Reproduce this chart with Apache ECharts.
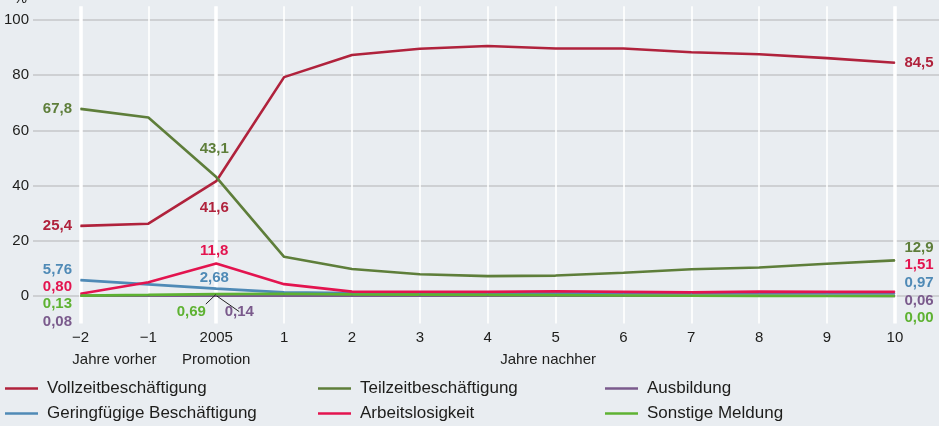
<!DOCTYPE html>
<html>
<head>
<meta charset="utf-8">
<script src="https://cdn.jsdelivr.net/npm/echarts@6/dist/echarts.min.js"></script>
<style>
html,body{margin:0;padding:0;background:#e9edf1;}
#c{width:939px;height:426px;}
</style>
</head>
<body>
<div id="c"></div>
<script>
// ---- data ----
var xPos = [-2, -1, 0, 1, 2, 3, 4, 5, 6, 7, 8, 9, 10];
var xLabels = ['\u22122', '\u22121', '2005', '1', '2', '3', '4', '5', '6', '7', '8', '9', '10'];
var groupLabels = ['Jahre vorher', 'Promotion', 'Jahre nachher'];
var groupPos = [-1.5, 0, 4.89];
var yTicks = [0, 20, 40, 60, 80, 100];

var vollzeit     = [25.4, 26.2, 41.6, 79.3, 87.3, 89.6, 90.6, 89.7, 89.7, 88.3, 87.6, 86.2, 84.5];
var teilzeit     = [67.8, 64.7, 43.1, 14.2, 9.8, 7.9, 7.2, 7.4, 8.4, 9.7, 10.3, 11.7, 12.9];
var ausbildung   = [0.08, 0.10, 0.14, 0.15, 0.10, 0.10, 0.10, 0.10, 0.08, 0.08, 0.07, 0.07, 0.06];
var geringfuegig = [5.76, 4.20, 2.68, 1.30, 1.10, 1.00, 1.00, 1.00, 1.00, 0.97, 0.98, 0.98, 0.97];
var arbeitslos   = [0.80, 5.00, 11.8, 4.30, 1.60, 1.50, 1.50, 1.70, 1.50, 1.30, 1.60, 1.50, 1.51];
var sonstige     = [0.13, 0.40, 0.69, 0.80, 0.60, 0.50, 0.40, 0.30, 0.20, 0.10, 0.05, 0.02, 0.00];

var seriesNames = ['Vollzeitbeschäftigung', 'Teilzeitbeschäftigung', 'Ausbildung',
                   'Geringfügige Beschäftigung', 'Arbeitslosigkeit', 'Sonstige Meldung'];
var seriesValues = [vollzeit, teilzeit, ausbildung, geringfuegig, arbeitslos, sonstige];
var colors = ['#b0223c', '#5e7e3a', '#7a5a8c', '#4f8ab6', '#e3144f', '#5eb232'];

// ---- label styling (index into data, decimals, placement) ----
var labelCfg = [
  [ {i:0, d:1, pos:'left', dist:8, dx:0, dy:0}, {i:2, d:1, pos:'bottom', dist:19, dx:-2, dy:0}, {i:12, d:1, pos:'right', dist:9, dx:0, dy:0} ],
  [ {i:0, d:1, pos:'left', dist:8, dx:0, dy:0}, {i:2, d:1, pos:'top', dist:20, dx:-2, dy:0}, {i:12, d:1, pos:'right', dist:9, dx:0, dy:-13} ],
  [ {i:0, d:2, pos:'left', dist:8, dx:0, dy:26}, {i:2, d:2, pos:'bottom', dist:8, dx:23, dy:0, line:true}, {i:12, d:2, pos:'right', dist:9, dx:0, dy:5} ],
  [ {i:0, d:2, pos:'left', dist:8, dx:0, dy:-10}, {i:2, d:2, pos:'top', dist:3, dx:-2, dy:0}, {i:12, d:2, pos:'right', dist:9, dx:0, dy:-10} ],
  [ {i:0, d:2, pos:'left', dist:8, dx:0, dy:-7}, {i:2, d:1, pos:'top', dist:5, dx:-2, dy:0}, {i:12, d:2, pos:'right', dist:9, dx:0, dy:-27} ],
  [ {i:0, d:2, pos:'left', dist:8, dx:0, dy:8}, {i:2, d:2, pos:'bottom', dist:9.5, dx:-25, dy:0, line:true}, {i:12, d:2, pos:'right', dist:9, dx:0, dy:22} ]
];

function fmt(v, d) { return v.toFixed(d).replace('.', ','); }

var FONT = '"Liberation Sans", Arial, sans-serif';
var TXT = '#1d1d1b';

var series = seriesValues.map(function (vals, s) {
  var data = vals.map(function (v, k) {
    var item = { value: [xPos[k], v] };
    labelCfg[s].forEach(function (c) {
      if (c.i === k) {
        item.label = {
          show: true, position: c.pos, distance: c.dist, offset: [c.dx, c.dy],
          formatter: fmt(v, c.d), color: colors[s], fontFamily: FONT,
          fontSize: 15, fontWeight: 'bold'
        };
        if (c.line) {
          item.labelLine = { show: true, length2: 0, lineStyle: { color: '#222', width: 1 } };
        }
      }
    });
    return item;
  });
  return {
    name: seriesNames[s], type: 'line', data: data, z: 3,
    symbol: 'circle', symbolSize: 1, showSymbol: true,
    itemStyle: { color: colors[s] },
    lineStyle: { color: colors[s], width: 2.6 },
    emphasis: { disabled: true }, animation: false
  };
});

// gridlines drawn by the axes' scales via markLine on a helper series
var gridMarks = [];
yTicks.forEach(function (t) {
  gridMarks.push({ yAxis: t, lineStyle: { color: '#c4c6c8', width: 1.5, type: 'solid' } });
});
xPos.forEach(function (x, k) {
  var thick = (k === 0 || k === 2 || k === xPos.length - 1);
  gridMarks.push({ xAxis: x, lineStyle: { color: '#ffffff', width: thick ? 3.5 : 1.6, type: 'solid' } });
});
series.unshift({
  name: '_grid', type: 'line', data: [[0, 0]], symbol: 'none', z: 1,
  lineStyle: { opacity: 0 }, silent: true, animation: false,
  markLine: { silent: true, symbol: 'none', z: 1, animation: false, label: { show: false }, data: gridMarks }
});

function legendAt(left, names) {
  return {
    left: left, top: 380, orient: 'vertical', icon: 'rect', itemWidth: 33, itemHeight: 2.5,
    itemGap: 8, padding: 0, data: names, selectedMode: false,
    textStyle: { fontFamily: FONT, fontSize: 17, color: TXT, padding: [0, 0, 0, 4] }
  };
}

var option = {
  backgroundColor: '#e9edf1',
  animation: false,
  grid: { left: 33, right: 0, top: 6.2, bottom: 102.4, outerBoundsMode: 'none', containLabel: false },
  xAxis: [
    {
      type: 'value', min: -2.7, max: 10.65,
      axisLine: { show: false, onZero: false }, axisTick: { show: false }, splitLine: { show: false },
      axisLabel: {
        customValues: xPos, margin: 7, color: TXT, fontFamily: FONT, fontSize: 15,
        formatter: function (v) { var k = xPos.indexOf(Math.round(v)); return k >= 0 ? xLabels[k] : ''; }
      }
    },
    {
      type: 'value', min: -2.7, max: 10.65, position: 'bottom', offset: 22,
      axisLine: { show: false, onZero: false }, axisTick: { show: false }, splitLine: { show: false },
      axisLabel: {
        customValues: groupPos, margin: 7, color: TXT, fontFamily: FONT, fontSize: 15,
        formatter: function (v) {
          for (var k = 0; k < groupPos.length; k++) { if (Math.abs(groupPos[k] - v) < 1e-6) return groupLabels[k]; }
          return '';
        }
      }
    }
  ],
  yAxis: {
    type: 'value', min: -10, max: 105,
    name: '%', nameLocation: 'end', nameGap: 0,
    nameTextStyle: { color: TXT, fontFamily: FONT, fontSize: 15, align: 'right', padding: [0, 6, 0, 0] },
    axisLine: { show: false, onZero: false }, axisTick: { show: false }, splitLine: { show: false },
    axisLabel: { customValues: yTicks, margin: 4, color: TXT, fontFamily: FONT, fontSize: 15 }
  },
  legend: [
    legendAt(5, [seriesNames[0], seriesNames[3]]),
    legendAt(318, [seriesNames[1], seriesNames[4]]),
    legendAt(605, [seriesNames[2], seriesNames[5]])
  ],
  series: series
};

var chart = echarts.init(document.getElementById('c'), null, { renderer: 'canvas' });
chart.setOption(option);
</script>
</body>
</html>
